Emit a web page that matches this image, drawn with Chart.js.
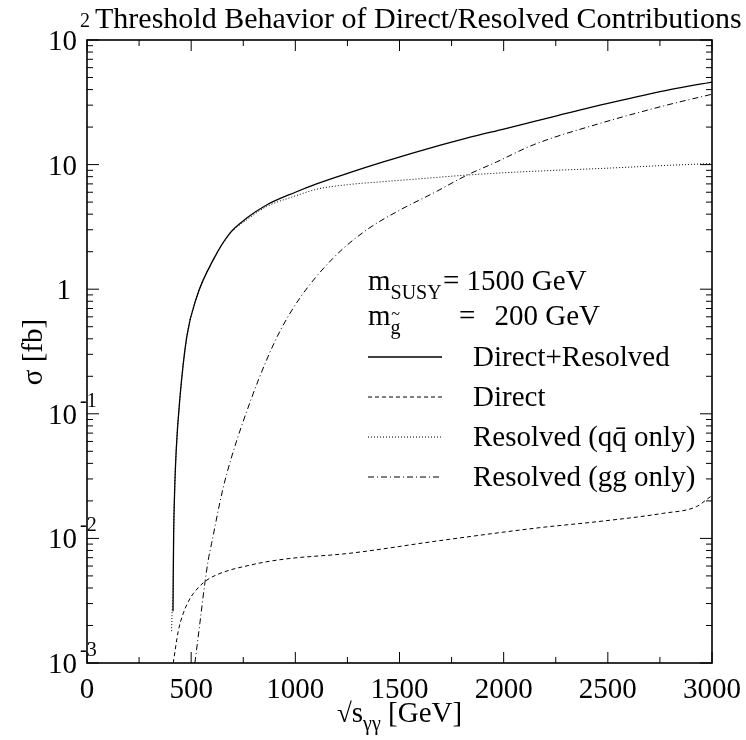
<!DOCTYPE html>
<html>
<head>
<meta charset="utf-8">
<script src="https://cdn.jsdelivr.net/npm/chart.js@4.4.0/dist/chart.umd.min.js"></script>
<style>
  html, body { margin: 0; padding: 0; background: #fff; }
  #wrap { width: 746px; height: 740px; }
</style>
</head>
<body>
<div id="wrap"><canvas id="chart"></canvas></div>
<script>
// DATA (sqrt(s_gg) in GeV, sigma in fb)
const energyTotal = [413, 414, 416, 420, 428, 446, 479, 527, 605, 686, 767, 862, 1000, 1102, 1250, 1422, 1600, 1822, 2000, 2142, 2462, 2782, 3000];
const sigmaTotal  = [0.0026, 0.005, 0.011, 0.022, 0.05, 0.134, 0.416, 0.87, 1.71, 2.82, 3.72, 4.74, 6.0, 7.0, 8.5, 10.5, 12.9, 16.3, 19.3, 22.1, 30, 39.5, 46];

const energyDirect = [414, 438, 462, 486, 510, 558, 622, 782, 942, 1262, 1694, 2174, 2446, 2766, 2926, 2982, 3000];
const sigmaDirect  = [0.001, 0.0018, 0.0025, 0.0031, 0.0036, 0.0044, 0.0051, 0.0061, 0.0068, 0.0076, 0.0096, 0.0122, 0.0136, 0.0159, 0.018, 0.021, 0.022];

const energyQQ = [406, 408, 414, 416, 420, 428, 446, 479, 527, 605, 686, 767, 862, 1000, 1102, 1250, 1422, 1600, 1822, 2000, 2250, 2462, 2750, 3000];
const sigmaQQ  = [0.0018, 0.0024, 0.005, 0.011, 0.022, 0.05, 0.134, 0.415, 0.87, 1.7, 2.78, 3.6, 4.6, 5.6, 6.34, 6.9, 7.3, 7.7, 8.24, 8.6, 9.0, 9.3, 9.8, 10.2];

const energyGG = [518, 542, 566, 582, 598, 650, 694, 790, 862, 926, 1022, 1182, 1342, 1502, 1662, 1822, 1966, 2142, 2462, 2782, 3000];
const sigmaGG  = [0.001, 0.0021, 0.0044, 0.0067, 0.0091, 0.024, 0.045, 0.134, 0.27, 0.46, 0.85, 1.78, 2.99, 4.32, 5.9, 8.2, 10.5, 14.4, 21.4, 30, 36.7];

const xTicks = [0, 500, 1000, 1500, 2000, 2500, 3000];
const yDecades = [-3, -2, -1, 0, 1, 2];

const FONT = "'Liberation Serif', 'DejaVu Serif', serif";
const BIG = 29, SMALL = 20;

function pts(xs, ys) {
  return xs.map((x, i) => ({ x: x, y: ys[i] }));
}

function text(ctx, s, x, y, size, align) {
  ctx.font = size + "px " + FONT;
  ctx.textAlign = align || "left";
  ctx.textBaseline = "alphabetic";
  ctx.fillText(s, x, y);
  return ctx.measureText(s).width;
}

function seg(ctx, x1, y1, x2, y2) {
  ctx.beginPath();
  ctx.moveTo(x1, y1);
  ctx.lineTo(x2, y2);
  ctx.stroke();
}

// frame, inward ticks, labels and the in-plot legend
const decorations = {
  id: "decorations",
  afterDraw(chart) {
    const ctx = chart.ctx;
    const a = chart.chartArea;
    const xs = chart.scales.x, ys = chart.scales.y;
    ctx.save();
    ctx.fillStyle = "#000";
    ctx.strokeStyle = "#000";
    ctx.lineWidth = 1.6;
    ctx.strokeRect(a.left, a.top, a.right - a.left, a.bottom - a.top);

    // x ticks
    ctx.lineWidth = 1;
    for (let v = 0; v <= 3000; v += 250) {
      const px = xs.getPixelForValue(v);
      const len = v % 500 === 0 ? 11 : 6;
      seg(ctx, px, a.bottom, px, a.bottom - len);
      seg(ctx, px, a.top, px, a.top + len);
    }
    xTicks.forEach(v => {
      text(ctx, String(v), xs.getPixelForValue(v), 698, BIG, "center");
    });

    // y ticks
    for (let d = -3; d <= 2; d++) {
      for (let m = 1; m < 10; m++) {
        const v = m * Math.pow(10, d);
        if (v > 100 * 1.0001) continue;
        const py = ys.getPixelForValue(v);
        const len = m === 1 ? 12 : 6;
        seg(ctx, a.left, py, a.left + len, py);
        seg(ctx, a.right, py, a.right - len, py);
      }
    }
    yDecades.forEach(d => {
      const py = ys.getPixelForValue(Math.pow(10, d));
      if (d === 0) {
        text(ctx, "1", 71, py + 10, BIG, "right");
      } else if (d === 1) {
        text(ctx, "10", 77, py + 10, BIG, "right");
      } else {
        text(ctx, "10", 77, py + 10, BIG, "right");
        text(ctx, String(d), 80, d === 2 ? py - 13 : py - 7, SMALL, "left");
      }
    });

    // title
    text(ctx, "Threshold Behavior of Direct/Resolved Contributions", 95, 28, 30, "left");

    // x axis title
    let x0 = 337, yb = 722;
    let w = text(ctx, "\u221A", x0, yb, BIG - 2);
    x0 += w;
    w = text(ctx, "s", x0, yb, BIG);
    x0 += w;
    w = text(ctx, "\u03B3\u03B3", x0, yb + 8, SMALL);
    x0 += w;
    text(ctx, " [GeV]", x0, yb, BIG);

    // y axis title
    ctx.save();
    ctx.translate(42, 352);
    ctx.rotate(-Math.PI / 2);
    text(ctx, "\u03C3 [fb]", 0, 0, BIG, "center");
    ctx.restore();

    // parameter text
    w = text(ctx, "m", 368, 290, BIG);
    text(ctx, "SUSY", 368 + w, 299, SMALL);
    text(ctx, "= 1500 GeV", 443, 290, BIG);
    w = text(ctx, "m", 368, 325, BIG);
    const gw = text(ctx, "g", 368 + w, 334, SMALL);
    text(ctx, "~", 368 + w + gw / 2, 319, 16, "center");
    text(ctx, "=", 459, 325, BIG);
    text(ctx, "200 GeV", 600, 325, BIG, "right");

    // legend
    chart.data.datasets.forEach((ds, i) => {
      const ly = 357 + i * 40;
      ctx.lineWidth = ds.borderWidth;
      ctx.setLineDash(ds.borderDash || []);
      seg(ctx, 368, ly, 442, ly);
      ctx.setLineDash([]);
      text(ctx, ds.label, 473, ly + 9, BIG);
    });
    ctx.restore();
  }
};

new Chart(document.getElementById("chart"), {
  type: "line",
  data: {
    datasets: [{
      label: "Direct+Resolved",
      data: pts(energyTotal, sigmaTotal),
      borderColor: "#000",
      borderWidth: 1.3,
      borderDash: []
    }, {
      label: "Direct",
      data: pts(energyDirect, sigmaDirect),
      borderColor: "#000",
      borderWidth: 1,
      borderDash: [4, 3]
    }, {
      label: "Resolved (q\u0071\u0304 only)",
      data: pts(energyQQ, sigmaQQ),
      borderColor: "#000",
      borderWidth: 1,
      borderDash: [1, 2]
    }, {
      label: "Resolved (gg only)",
      data: pts(energyGG, sigmaGG),
      borderColor: "#000",
      borderWidth: 1,
      borderDash: [6, 3, 1, 3]
    }]
  },
  options: {
    responsive: true,
    maintainAspectRatio: false,
    animation: false,
    layout: { padding: { left: 87, right: 34, top: 40, bottom: 77 } },
    elements: { point: { radius: 0 }, line: { cubicInterpolationMode: "monotone" } },
    plugins: { legend: { display: false }, tooltip: { enabled: false } },
    scales: {
      x: { type: "linear", min: 0, max: 3000, display: false },
      y: { type: "logarithmic", min: 0.001, max: 100, display: false }
    }
  },
  plugins: [decorations]
});
</script>
</body>
</html>
